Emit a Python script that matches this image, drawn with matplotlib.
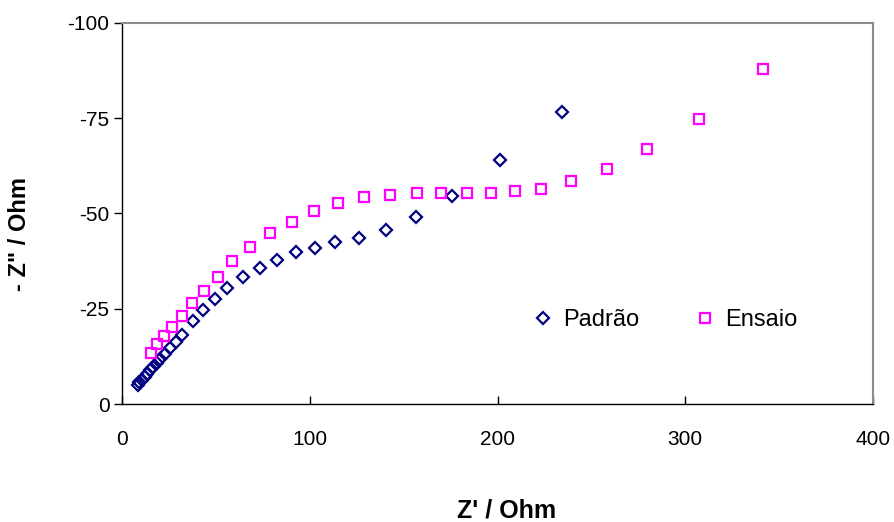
import matplotlib
matplotlib.use("Agg")
import matplotlib.pyplot as plt

plt.rcParams["font.family"] = ["Liberation Sans", "DejaVu Sans"]
plt.rcParams["axes.unicode_minus"] = False

# Nyquist data: Z' (real part) and Z'' (imaginary part), in Ohm
padrao_zre = [8.5, 9.3, 10.7, 12.0, 13.3, 14.9, 16.5, 18.4, 20.2, 22.9, 25.8,
              28.8, 32.0, 38.0, 43.3, 49.5, 55.8, 64.6, 73.5, 82.7, 92.5,
              102.8, 113.4, 126.4, 140.5, 156.4, 175.6, 201.3, 234.5]
padrao_zim = [-5.0, -5.8, -6.4, -7.1, -7.9, -8.8, -9.7, -10.8, -11.9, -13.1,
              -14.8, -16.4, -18.2, -21.8, -24.7, -27.6, -30.4, -33.4, -35.6,
              -37.8, -39.8, -40.9, -42.6, -43.6, -45.7, -49.0, -54.6, -64.0,
              -76.7]

ensaio_zre = [15.7, 18.7, 22.2, 26.5, 31.8, 37.1, 43.8, 51.0, 58.7, 68.2,
              78.8, 90.4, 102.3, 115.2, 129.1, 142.7, 157.0, 169.7, 183.6,
              196.4, 209.2, 223.0, 239.1, 258.2, 279.6, 307.3, 341.6]
ensaio_zim = [-13.5, -15.7, -17.8, -20.3, -23.2, -26.4, -29.7, -33.3, -37.5,
              -41.1, -44.8, -47.8, -50.7, -52.8, -54.3, -54.9, -55.5, -55.5,
              -55.5, -55.5, -56.0, -56.4, -58.6, -61.8, -67.0, -74.9, -88.0]

x_ticks = [0, 100, 200, 300, 400]
y_ticks = [0, -25, -50, -75, -100]

fig = plt.figure(figsize=(8.94, 5.22), dpi=100)
ax = fig.add_axes([122 / 894, 1 - 404 / 522, (873 - 122) / 894, (404 - 23) / 522])

ax.plot(padrao_zre, padrao_zim, linestyle="none", marker="D", ms=6.3,
        mfc="none", mec="#000080", mew=1.6, label="Padrão")
ax.plot(ensaio_zre, ensaio_zim, linestyle="none", marker="s", ms=7.2,
        mfc="none", mec="#FF00FF", mew=1.6, label="Ensaio")

ax.set_xlim(0, 400)
ax.set_ylim(0, -100)
ax.set_xticks(x_ticks)
ax.set_yticks(y_ticks)
ax.set_xticklabels([str(v) for v in x_ticks])
ax.set_yticklabels([str(v) for v in y_ticks])

for side in ("top", "right"):
    ax.spines[side].set_color("#8c8c8c")
    ax.spines[side].set_linewidth(1.5)
for side in ("left", "bottom"):
    ax.spines[side].set_color("#000000")
    ax.spines[side].set_linewidth(1.0)

ax.tick_params(axis="x", direction="in", length=6, width=1, pad=19,
               labelsize=15)
ax.tick_params(axis="y", direction="out", length=6, width=1, pad=3,
               labelsize=15)

ax.set_xlabel("Z' / Ohm", fontsize=18, fontweight="bold", va="center")
ax.set_ylabel('- Z" / Ohm', fontsize=17, fontweight="bold", va="center")
ax.xaxis.set_label_coords((507 - 122) / (873 - 122), -(511 - 404) / (404 - 23))
ax.yaxis.set_label_coords(-(122 - 20) / (873 - 122), (404 - 234) / (404 - 23))

leg = ax.legend(loc="center left", bbox_to_anchor=((531 - 122) / (873 - 122),
                (404 - 320) / (404 - 23)), ncol=2, frameon=False,
                fontsize=17, handlelength=1.0, handletextpad=0.35,
                columnspacing=2.3, borderaxespad=0, borderpad=0)

fig.savefig("out.png", dpi=100, facecolor="white")
